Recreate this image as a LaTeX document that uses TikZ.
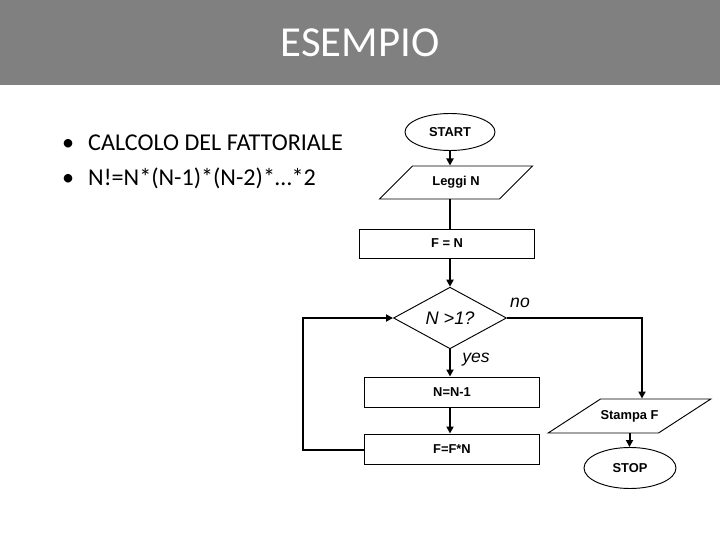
\documentclass[tikz,border=0pt]{standalone}
\usepackage{fontspec}
\setmainfont{Carlito}
\newfontfamily\flowfont{Liberation Sans}
\usetikzlibrary{shapes.geometric,arrows.meta}
\definecolor{bandgray}{HTML}{808080}
\tikzset{>={Triangle[length=6pt,width=6pt]}}
\tikzset{
  flowtext/.style={font=\flowfont\bfseries\fontsize{11}{13}\selectfont},
  procbox/.style={flowtext,draw,line width=0.8pt,rectangle,inner sep=0pt,minimum width=5.25cm,minimum height=0.88cm},
  termbox/.style={flowtext,draw,line width=0.8pt,ellipse,inner sep=0pt},
  iobox/.style={flowtext,draw,line width=0.8pt,trapezium,trapezium stretches body,inner xsep=0pt,text height=8pt,text depth=2.5pt},
  testbox/.style={draw,line width=0.8pt,diamond,inner sep=0pt,minimum width=3.39cm,minimum height=1.74cm,font=\flowfont\itshape\fontsize{15.5}{18}\selectfont},
  branch/.style={font=\flowfont\itshape\fontsize{15}{18}\selectfont},
  flow/.style={->,line width=1.7pt},
  bullettext/.style={anchor=base west,inner sep=0pt,font=\fontsize{20.6}{25}\selectfont}
}

\begin{document}
\begin{tikzpicture}[x=0.03cm,y=-0.03cm]
      \useasboundingbox (0,0) rectangle (720,540);

      % Title band
      \fill[bandgray] (0,0) rectangle (720,85);
      \node[anchor=base,text=white,inner sep=0pt,font=\fontsize{36.5}{40}\selectfont] (title) at (360,57) {ESEMPIO};

      % Bullet list
      \node[bullettext] (dot1) at (62,151) {•};
      \node[bullettext] (item1) at (88,151) {CALCOLO DEL FATTORIALE};
      \node[bullettext] (dot2) at (62,186) {•};
      \node[bullettext] (item2) at (88,186) {N!=N*(N-1)*(N-2)*…*2};

      % Flowchart blocks
      \node[termbox,minimum width=2.7cm,minimum height=1.11cm] (start) at (450,132) {START};
      \node[iobox,trapezium left angle=45,trapezium right angle=135,inner ysep=8.85pt,minimum width=4.59cm] (leggi) at (456,182.5) {Leggi N};
      \node[procbox,minimum height=0.87cm] (init) at (447,243.5) {F = N};
      \node[testbox] (test) at (450,318) {N >1?};
      \node[procbox,minimum height=0.9cm] (decr) at (452,392) {N=N-1};
      \node[procbox,minimum height=0.9cm] (mult) at (452,449) {F=F*N};
      \node[iobox,trapezium left angle=33,trapezium right angle=147,inner ysep=9.25pt,minimum width=4.65cm] (print) at (629.5,416) {Stampa F};
      \node[termbox,minimum width=2.76cm,minimum height=1.23cm] (stop) at (630,468) {STOP};

      % Branch labels
      \node[branch] (no) at (520,303) {no};
      \node[branch] (yes) at (476,360) {yes};

      % Connectors
      \coordinate (nocorner) at (642,318);
      \coordinate (loopcorner) at (303,450);
      \draw[flow] (start.south) -- (start.south |- leggi.north);
      \draw[line width=1.7pt] (test.north |- leggi.south) -- (test.north |- init.north);
      \draw[flow] (test.north |- init.south) -- (test.north);
      \draw[flow] (test.south) -- (test.south |- decr.north);
      \draw[flow] (test.south |- decr.south) -- (test.south |- mult.north);
      \draw[flow] (mult.west |- loopcorner) -- (loopcorner) |- (test.west);
      \draw[flow] (test.east) -- (nocorner) -- (nocorner |- print.north);
      \draw[flow] (print.south) -- (print.south |- stop.north);

    \end{tikzpicture}
\end{document}
